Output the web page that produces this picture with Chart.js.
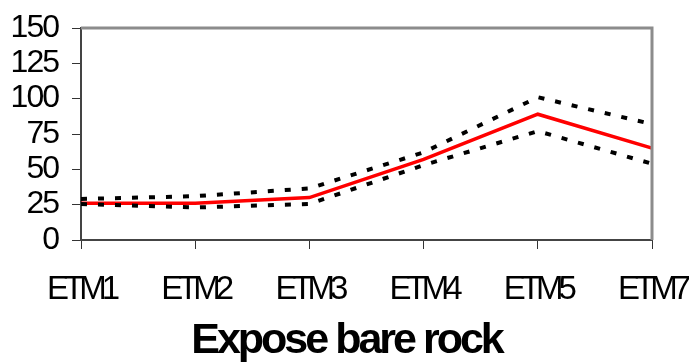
<!DOCTYPE html>
<html>
<head>
<meta charset="utf-8">
<script src="https://cdn.jsdelivr.net/npm/chart.js@4.4.1/dist/chart.umd.min.js"></script>
<style>
html,body{margin:0;padding:0;background:#fff;}
#wrap{width:689px;height:363px;position:relative;}
</style>
</head>
<body>
<div id="wrap"><canvas id="c" width="689" height="363"></canvas></div>
<script>
const categories = ["ETM1", "ETM2", "ETM3", "ETM4", "ETM5", "ETM7"];
const meanValues = [26, 26, 30, 57, 89, 65];
const upperValues = [29, 31, 36.5, 62, 101, 82];
const lowerValues = [25.5, 23, 25.5, 53, 77, 54];
const yTicks = [0, 25, 50, 75, 100, 125, 150];
const xTitle = "Expose bare rock";

const FONT = "'Liberation Sans', Arial, sans-serif";

// condensed look: negative letter spacing per text type
const origDrawLabels = Chart.Scale.prototype.drawLabels;
Chart.Scale.prototype.drawLabels = function (area) {
  const ctx = this.ctx;
  ctx.save();
  ctx.letterSpacing = this.axis === 'x' ? '-5px' : '-2px';
  origDrawLabels.call(this, area);
  ctx.restore();
};
const origDrawTitle = Chart.Scale.prototype.drawTitle;
Chart.Scale.prototype.drawTitle = function (area) {
  const ctx = this.ctx;
  ctx.save();
  ctx.letterSpacing = '-3px';
  ctx.translate(-20, 4);
  origDrawTitle.call(this, area);
  ctx.restore();
};

const framePlugin = {
  id: 'frame',
  afterDatasetsDraw(chart) {
    const a = chart.chartArea, ctx = chart.ctx;
    ctx.save();
    ctx.strokeStyle = '#8c8c8c';
    ctx.lineWidth = 3;
    ctx.beginPath();
    ctx.moveTo(a.left, a.top);
    ctx.lineTo(a.right, a.top);
    ctx.lineTo(a.right, a.bottom);
    ctx.stroke();
    ctx.restore();
  }
};

new Chart(document.getElementById('c'), {
  type: 'line',
  data: {
    labels: categories,
    datasets: [
      { data: upperValues, borderColor: '#000', borderWidth: 4, borderDash: [6, 11], pointRadius: 0, tension: 0, fill: false },
      { data: lowerValues, borderColor: '#000', borderWidth: 4, borderDash: [6, 11], pointRadius: 0, tension: 0, fill: false },
      { data: meanValues, borderColor: '#ff0000', borderWidth: 3.5, pointRadius: 0, tension: 0, fill: false }
    ]
  },
  options: {
    responsive: false,
    animation: false,
    layout: { padding: { top: 28, right: 37, left: 0, bottom: 0 } },
    plugins: { legend: { display: false }, tooltip: { enabled: false } },
    scales: {
      x: {
        offset: false,
        grid: { drawOnChartArea: false, color: '#333', tickLength: 9, lineWidth: 1 },
        border: { color: '#444', width: 2 },
        ticks: { color: '#000', font: { family: FONT, size: 33 }, padding: 21, maxRotation: 0, autoSkip: false },
        title: { display: true, text: xTitle, color: '#000', font: { family: FONT, size: 43, weight: 'bold' }, padding: { top: 0, bottom: 0 } },
        afterFit(s) { s.height = 123; s.paddingLeft = 0; s.paddingRight = 0; }
      },
      y: {
        min: 0, max: 150,
        afterBuildTicks(s) { s.ticks = yTicks.map(v => ({ value: v })); },
        grid: { drawOnChartArea: false, color: '#333', tickLength: 9, lineWidth: 1 },
        border: { color: '#444', width: 2 },
        ticks: { color: '#000', font: { family: FONT, size: 32 }, padding: 14, autoSkip: false },
        afterFit(s) { s.width = 81; s.paddingTop = 0; s.paddingBottom = 0; }
      }
    }
  },
  plugins: [framePlugin]
});
</script>
</body>
</html>
